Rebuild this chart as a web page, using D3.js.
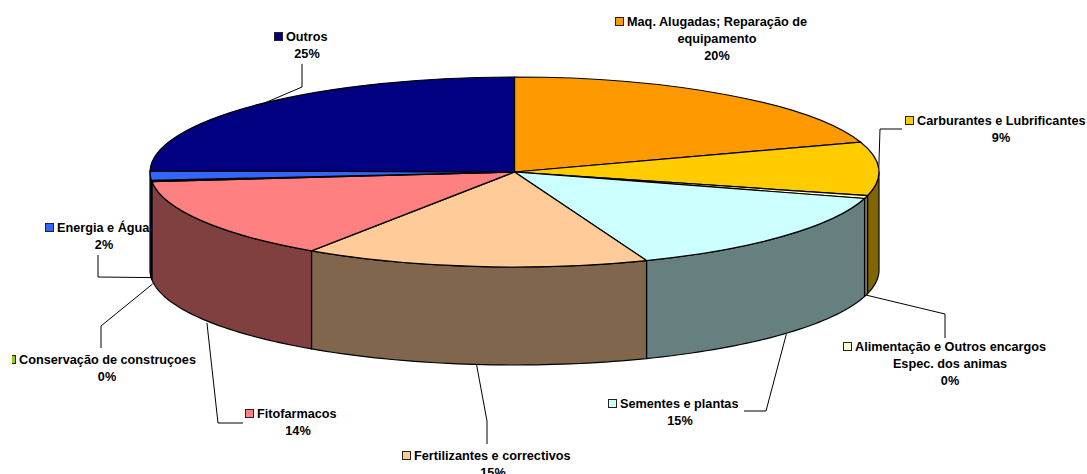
<!DOCTYPE html>
<html>
<head>
<meta charset="utf-8">
<script src="https://cdn.jsdelivr.net/npm/d3@7"></script>
<style>
  html, body { margin: 0; padding: 0; background: #fff; overflow: hidden; }
  svg { display: block; }
  text { font-family: "Liberation Sans", Arial, sans-serif; font-size: 12.7px; font-weight: bold; fill: #000; }
  .leader { fill: none; stroke: #000; stroke-width: 1; }
  .slice { stroke: #000; stroke-width: 1.2; vector-effect: non-scaling-stroke; }
  .wall { stroke: #000; stroke-width: 1.2; stroke-linejoin: round; }
</style>
</head>
<body>
<svg width="1087" height="474"></svg>
<script>
// slices, clockwise from 12 o'clock
const categories = [
  "Maq. Alugadas; Reparação de equipamento",
  "Carburantes e Lubrificantes",
  "Alimentação e Outros encargos Espec. dos animas",
  "Sementes e plantas",
  "Fertilizantes e correctivos",
  "Fitofarmacos",
  "Conservação de construçoes",
  "Energia e Água",
  "Outros",
];
const values = [19.9, 9.1, 0.5, 14.6, 15.3, 14, 0.2, 1.6, 24.8];
const percentLabels = ["20%", "9%", "0%", "15%", "15%", "14%", "0%", "2%", "25%"];
const colors = ["#ff9900", "#ffcc00", "#ffffcc", "#ccffff", "#ffcc99", "#ff8080", "#99cc00", "#3366ff", "#000080"];

// label layout: first lines (with key), x of first line, baseline, centre of the other lines, leader elbow + end
const labelLines = [
  ["Maq. Alugadas; Reparação de", "equipamento"],
  ["Carburantes e Lubrificantes"],
  ["Alimentação e Outros encargos", "Espec. dos animas"],
  ["Sementes e plantas"],
  ["Fertilizantes e correctivos"],
  ["Fitofarmacos"],
  ["Conservação de construçoes"],
  ["Energia e Água"],
  ["Outros"],
];
const labelX = [627, 917, 855, 620, 414, 257, 19, 57, 286];
const labelY = [26, 125, 351, 408, 460, 418, 364, 232, 41];
const labelCentre = [717, 1001, 950, 680, 493, 298, 107, 104, 307];
const leaders = [
  null,
  [[880, 129], [902, 129]],
  [[945, 314], [945, 338]],
  [[766, 411], [744, 411]],
  [[487, 421], [487, 444]],
  [[218, 423], [243, 423]],
  [[101, 326], [101, 348]],
  [[98, 277], [98, 255]],
  [[302, 87], [302, 64]],
];
// small nudges of where a leader leaves the pie
const leaderNudge = [null, [0, 0], [0, 0], [3, 0], [2, 0], [5, 4], [1, 5], [1, 4], [3, 0]];

const svg = d3.select("svg");
const cx = 514.5, cy = 172, rx = 364.5, ry = 95, depth = 98;

const pie = d3.pie().sort(null).value(d => d)(values);
const arc = d3.arc().innerRadius(0).outerRadius(rx);
const ex = a => cx + rx * Math.sin(a);
const ey = a => cy - ry * Math.cos(a);

// side walls, only the front half of the disc shows
const lineGen = d3.line();
const wall = svg.append("g");
pie.forEach((d, i) => {
  const a0 = Math.max(d.startAngle, Math.PI / 2);
  const a1 = Math.min(d.endAngle, Math.PI * 1.5);
  if (a1 <= a0) return;
  const steps = d3.range(0, 41).map(k => a0 + (a1 - a0) * k / 40);
  const pts = steps.map(a => [ex(a), ey(a)])
    .concat(steps.slice().reverse().map(a => [ex(a), ey(a) + depth]));
  const c = d3.rgb(colors[i]);
  wall.append("path")
    .attr("class", "wall")
    .attr("d", lineGen(pts) + "Z")
    .attr("fill", d3.rgb(c.r / 2, c.g / 2, c.b / 2));
});

// top face
svg.append("g")
  .attr("transform", `translate(${cx},${cy}) scale(1,${ry / rx})`)
  .selectAll("path")
  .data(pie)
  .enter().append("path")
  .attr("class", "slice")
  .attr("d", arc)
  .attr("fill", (d, i) => colors[i]);

// leader lines start on the rim at the middle of each slice
pie.forEach((d, i) => {
  if (!leaders[i]) return;
  const mid = (d.startAngle + d.endAngle) / 2;
  const front = Math.cos(mid) < 0;
  const start = [ex(mid) + leaderNudge[i][0], ey(mid) + (front ? depth : 0) + leaderNudge[i][1]];
  svg.append("path")
    .attr("class", "leader")
    .attr("d", lineGen([start].concat(leaders[i])));
});

// labels
const clip = svg.append("clipPath").attr("id", "plotClip");
clip.append("rect").attr("x", 12).attr("y", 0).attr("width", 1075).attr("height", 474);
const labels = svg.append("g").attr("clip-path", "url(#plotClip)");

categories.forEach((name, i) => {
  const x = labelX[i], y = labelY[i], c = labelCentre[i];
  labels.append("rect")
    .attr("x", x - 11.5).attr("y", y - 8.5)
    .attr("width", 8).attr("height", 8)
    .attr("fill", colors[i])
    .attr("stroke", "#222").attr("stroke-width", 1);
  labels.append("text").attr("x", x).attr("y", y).text(labelLines[i][0]);
  let line = y;
  labelLines[i].slice(1).forEach(t => {
    line += 17;
    labels.append("text").attr("x", c).attr("y", line).attr("text-anchor", "middle").text(t);
  });
  labels.append("text").attr("x", c).attr("y", line + 16.5).attr("text-anchor", "middle").text(percentLabels[i]);
});
</script>
</body>
</html>
